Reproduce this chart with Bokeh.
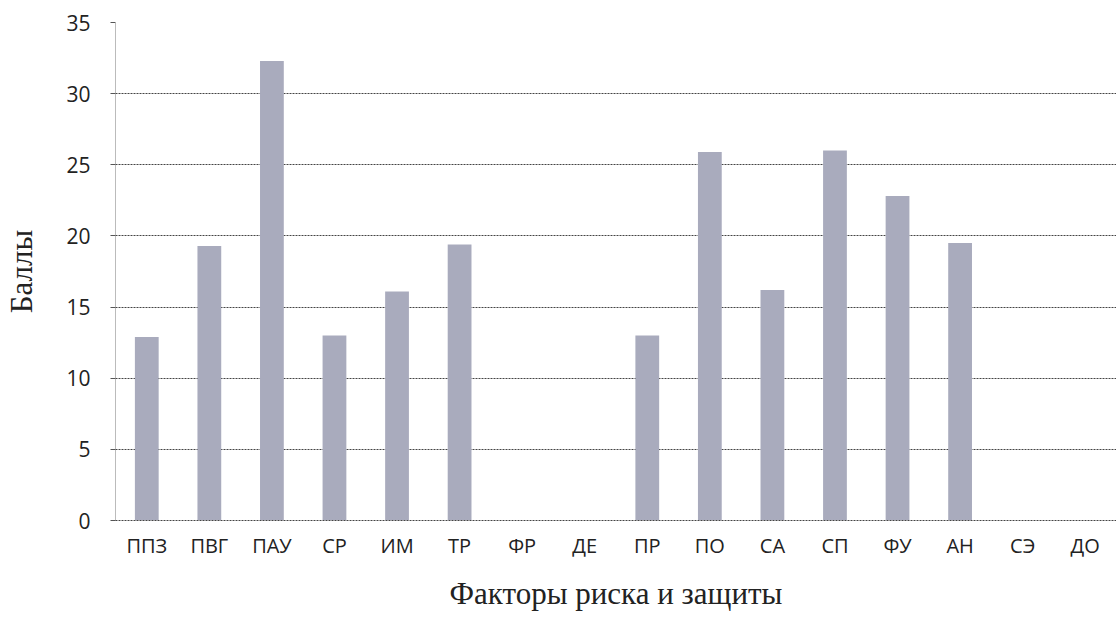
from bokeh.plotting import figure
from bokeh.models import FixedTicker, Range1d
from bokeh.embed import file_html
from bokeh.resources import INLINE

categories = ["ППЗ", "ПВГ", "ПАУ", "СР", "ИМ", "ТР", "ФР", "ДЕ",
              "ПР", "ПО", "СА", "СП", "ФУ", "АН", "СЭ", "ДО"]
values = [12.9, 19.3, 32.3, 13.0, 16.1, 19.4, 0, 0,
          13.0, 25.9, 16.2, 26.0, 22.8, 19.5, 0, 0]
y_ticks = [0, 5, 10, 15, 20, 25, 30, 35]

p = figure(x_range=categories, y_range=Range1d(0, 35),
           width=1116, height=613, output_backend="svg", toolbar_location=None,
           min_border_left=115, min_border_top=22, min_border_bottom=89, min_border_right=0)
p.outline_line_color = None

p.vbar(x=categories, top=values, width=0.38, fill_color="#a9abbd", line_color=None)

p.yaxis.ticker = FixedTicker(ticks=y_ticks)
p.yaxis.axis_label = "Баллы"
p.yaxis.axis_label_text_font = "Liberation Serif"
p.yaxis.axis_label_text_font_style = "normal"
p.yaxis.axis_label_text_font_size = "31px"
p.yaxis.axis_label_text_color = "#222222"
p.yaxis.axis_label_standoff = 24
p.yaxis.major_label_text_font = "Open Sans"
p.yaxis.major_label_text_font_size = "21px"
p.yaxis.major_label_text_color = "#222222"
p.yaxis.major_label_standoff = 20
p.yaxis.axis_line_color = "#777777"
p.yaxis.axis_line_dash = "1 1"
p.yaxis.major_tick_line_color = "#555555"
p.yaxis.major_tick_in = 0
p.yaxis.major_tick_out = 5
p.yaxis.minor_tick_line_color = None

p.xaxis.axis_label = "Факторы риска и защиты"
p.xaxis.axis_label_text_font = "Liberation Serif"
p.xaxis.axis_label_text_font_style = "normal"
p.xaxis.axis_label_text_font_size = "31px"
p.xaxis.axis_label_text_color = "#222222"
p.xaxis.axis_label_standoff = 14
p.xaxis.major_label_text_font = "Open Sans"
p.xaxis.major_label_text_font_size = "20px"
p.xaxis.major_label_text_color = "#222222"
p.xaxis.major_label_standoff = 5
p.xaxis.axis_line_color = "#444444"
p.xaxis.axis_line_dash = "2 1"
p.xaxis.major_tick_line_color = None
p.xaxis.minor_tick_line_color = None

p.xgrid.grid_line_color = None
p.ygrid.grid_line_color = "#444444"
p.ygrid.grid_line_dash = "2 1"
p.ygrid.grid_line_width = 1

open("out.html", "w").write(file_html(p, INLINE))
